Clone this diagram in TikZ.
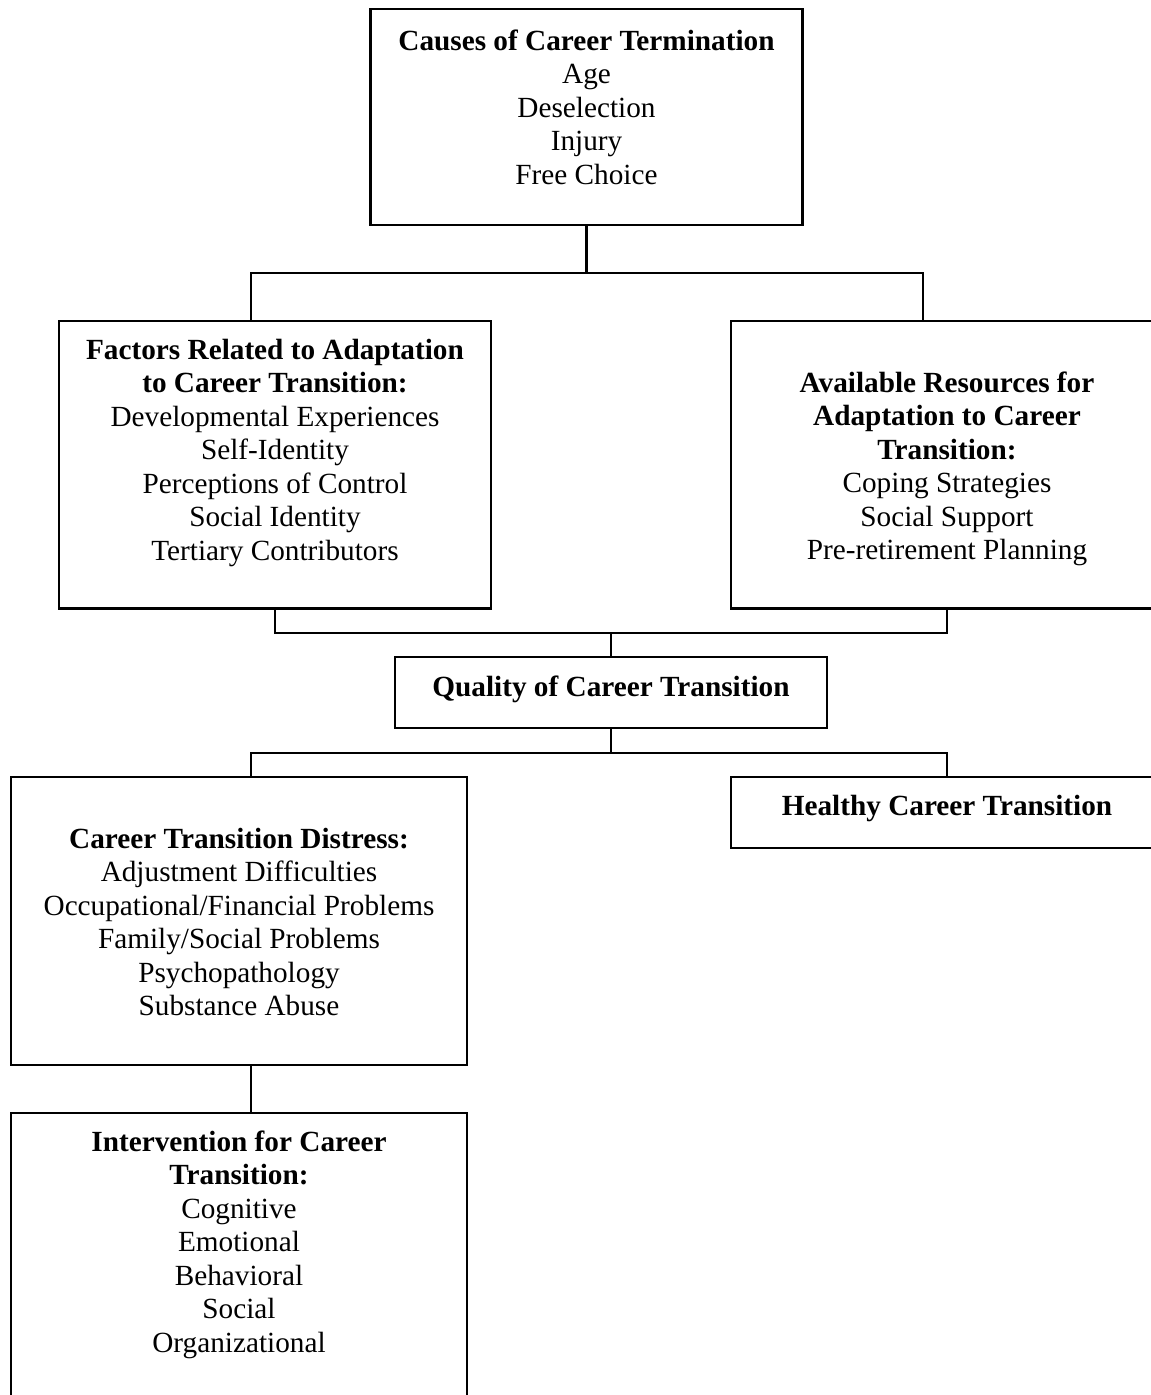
\documentclass[tikz,border=0pt]{standalone}
\usepackage{fontspec}
\setmainfont{Liberation Serif}
\usetikzlibrary{calc}
\tikzset{
  box/.style={draw, line width=2.4pt, rectangle, inner sep=0pt, outer sep=0pt, anchor=north west},
  txt/.style={align=center, inner sep=0pt, outer sep=0pt, anchor=north, font=\fontsize{29.25pt}{33.5pt}\selectfont},
  link/.style={line width=2.4pt}
}
\begin{document}
\begin{tikzpicture}[x=1pt,y=-1pt]
\useasboundingbox (0,0) rectangle (1151,1395);
\fill[white] (0,0) rectangle (1151,1395);
% boxes
\node[box, minimum width=432pt, minimum height=216pt]   (causes)   at (370.5,9) {};
\node[box, minimum width=432pt, minimum height=287.5pt] (factors)  at (59,321) {};
\node[box, minimum width=432pt, minimum height=287.5pt] (avail)    at (731,321) {};
\node[box, minimum width=432pt, minimum height=71pt]    (quality)  at (395,657) {};
\node[box, minimum width=456pt, minimum height=288pt]   (distress) at (11,777) {};
\node[box, minimum width=432pt, minimum height=71pt]    (healthy)  at (731,777) {};
\node[box, minimum width=456pt, minimum height=300pt]   (interv)   at (11,1113) {};
% texts
\node[txt] (causesT) at (586.5,26.55) {\strut\textbf{Causes of Career Termination}\\Age\\Deselection\\Injury\\Free Choice};
\node[txt] (factorsT) at (275,335.55) {\strut\textbf{Factors Related to Adaptation}\\\textbf{to Career Transition:}\\Developmental Experiences\\Self-Identity\\Perceptions of Control\\Social Identity\\Tertiary Contributors};
\node[txt] (availT) at (947,368.55) {\strut\textbf{Available Resources for}\\\textbf{Adaptation to Career}\\\textbf{Transition:}\\Coping Strategies\\Social Support\\Pre-retirement Planning};
\node[txt] (qualityT) at (611,672.55) {\strut\textbf{Quality of Career Transition}};
\node[txt] (healthyT) at (947,791.55) {\strut\textbf{Healthy Career Transition}};
\node[txt] (distressT) at (239,824.55) {\strut\textbf{Career Transition Distress:}\\Adjustment Difficulties\\Occupational/Financial Problems\\Family/Social Problems\\Psychopathology\\Substance Abuse};
\node[txt] (intervT) at (239,1127.55) {\strut\textbf{Intervention for Career}\\\textbf{Transition:}\\Cognitive\\Emotional\\Behavioral\\Social\\Organizational};
% connectors
\coordinate (j1) at (586.5,272.7);
\draw[link] (causes.south) -- (j1);
\draw[link] ($(factors.north)+(-24,0)$) |- (j1) -| ($(avail.north)+(-24,0)$);
\coordinate (j2) at (611,632.7);
\draw[link] (factors.south) |- (j2) -| (avail.south);
\draw[link] (j2) -- (quality.north);
\coordinate (j3) at (611,752.7);
\draw[link] (quality.south) -- (j3);
\draw[link] ($(distress.north)+(12,0)$) |- (j3) -| (healthy.north);
\draw[link] ($(distress.south)+(12,0)$) -- ($(interv.north)+(12,0)$);
\end{tikzpicture}
\end{document}
